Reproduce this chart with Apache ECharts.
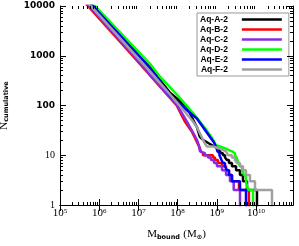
<!DOCTYPE html>
<html><head><meta charset="utf-8">
<script src="https://cdn.jsdelivr.net/npm/echarts@6/dist/echarts.min.js"></script>
<style>html,body{margin:0;padding:0;background:#fff}#c{width:299px;height:246px}</style>
</head><body><div id="c"></div>
<script>
// ---- data ----
const seriesNames = ['Aq-A-2','Aq-B-2','Aq-C-2','Aq-D-2','Aq-E-2','Aq-F-2'];
const seriesColors = ['#000000','#ff0000','#8a2be2','#00ff00','#0000ff','#a0a0a0'];
// smooth part: bound mass (Msun) and cumulative number
const massA = [5.6e5, 2.0e7, 6.5e7, 1.74e8, 2.5e8, 3.1e8, 3.7e8, 4.6e8, 1.0e9];
const countA = [12000, 570, 178, 93, 51, 37, 23.5, 20, 14];
const massB = [4.2e5, 7.1e6, 2.75e7, 9.5e7, 1.55e8, 2.3e8, 3.4e8];
const countB = [12000, 1000, 300, 100, 47, 30, 16];
const massC = [4.6e5, 7.6e6, 2.8e7, 9.8e7, 1.66e8, 2.4e8, 3.16e8, 3.55e8];
const countC = [12000, 1000, 300, 100, 50, 30, 20, 15];
const massD = [6.3e5, 2.0e7, 3.55e7, 1.0e8, 2.5e8, 5.5e8, 7.6e8];
const countD = [12000, 680, 380, 160, 70, 32, 22];
const massE = [5.6e5, 2.0e7, 6.5e7, 1.7e8, 3.1e8, 6.8e8, 8.5e8];
const countE = [12000, 560, 160, 81, 55, 23, 18];
const massF = [5.0e5, 2.0e7, 8.5e7, 2.3e8, 3.1e8, 5.0e8];
const countF = [12000, 480, 129, 51, 37, 17];
// step part: entry k = mass where the count steps down from k+1 to k
const topA = [1.06e10, 5.9e9, 4.66e9, 3.9e9, 3.1e9, 2.44e9, 2.05e9, 1.82e9, 1.62e9, 1.44e9, 1.28e9, 1.14e9];
const topB = [6.6e9, 3.68e9, 2.44e9, 2.05e9, 1.72e9, 1.36e9, 1.07e9, 9.0e8, 8.0e8, 4.45e8, 3.95e8];
const topC = [3.91e9, 2.7e9, 2.17e9, 1.72e9, 1.36e9, 1.01e9, 8.5e8, 7.1e8, 5.97e8, 5.0e8, 3.72e8];
const topD = [8.4e9, 6.25e9, 5.56e9, 4.94e9, 4.4e9, 3.91e9, 3.58e9, 3.37e9, 3.18e9, 2.91e9, 2.44e9, 1.93e9, 1.53e9, 1.21e9, 9.5e8];
const topE = [5.56e9, 3.91e9, 2.44e9, 2.05e9, 1.82e9, 1.62e9, 1.44e9, 1.32e9, 1.24e9, 1.17e9, 1.10e9, 1.04e9, 9.8e8];
const topF = [2.56e10, 9.42e9, 7.03e9, 5.56e9, 4.66e9, 3.91e9, 3.27e9, 2.91e9, 2.44e9, 1.93e9, 1.72e9, 1.36e9, 1.07e9, 8.0e8, 5.62e8];
// axis ranges / ticks (decades)
const xMin = 1e5, xMax = 8.8e10;
const yMin = 1, yMax = 10000;
const xDecades = [5, 6, 7, 8, 9, 10];
const yDecades = [0, 1, 2, 3, 4];

const smoothM = [massA, massB, massC, massD, massE, massF];
const smoothN = [countA, countB, countC, countD, countE, countF];
const tops = [topA, topB, topC, topD, topE, topF];

function build(m, n, top) {
  const pts = m.map((v, i) => [v, n[i]]);
  for (let k = top.length; k >= 1; k--) {
    pts.push([top[k - 1], k + 1]);
    pts.push([top[k - 1], k]);
  }
  pts.push([top[0], 0.5]);
  return pts;
}
const lxMin = Math.log10(xMin), lxMax = Math.log10(xMax);
const lyMin = Math.log10(yMin), lyMax = Math.log10(yMax);
function minors(lo, hi) {
  const out = [];
  for (let d = Math.floor(lo); d <= Math.ceil(hi); d++)
    for (let k = 2; k <= 9; k++) { const v = d + Math.log10(k); if (v > lo && v < hi) out.push(v); }
  return out;
}
const xMinor = minors(lxMin, lxMax);
const yMinor = minors(lyMin, lyMax);

const serif = 'Liberation Serif';
function decoX(pos, major, labels) {
  return {
    type: 'value', min: lxMin, max: lxMax, position: pos, z: 5,
    axisLine: { show: major, lineStyle: { color: '#000', width: 1 } },
    splitLine: { show: false },
    axisTick: { show: true, inside: true, length: major ? 6 : 3, lineStyle: { color: '#000', width: 1 },
      customValues: major ? xDecades : xMinor },
    axisLabel: labels ? {
      show: true, customValues: xDecades, margin: 3, align: 'center',
      formatter: v => '{b|10}{s|' + v + '}',
      rich: {
        b: { fontFamily: serif, fontSize: 11, lineHeight: 11, verticalAlign: 'bottom', color: '#000' },
        s: { fontFamily: serif, fontSize: 7, lineHeight: 7, verticalAlign: 'top', padding: [0, 0, 6, 0], color: '#000' }
      }
    } : { show: false }
  };
}
function decoY(pos, major, labels) {
  return {
    type: 'value', min: lyMin, max: lyMax, position: pos, z: 5,
    axisLine: { show: major, lineStyle: { color: '#000', width: 1 } },
    splitLine: { show: false },
    axisTick: { show: true, inside: true, length: major ? 6 : 3, lineStyle: { color: '#000', width: 1 },
      customValues: major ? yDecades : yMinor },
    axisLabel: labels ? {
      show: true, customValues: yDecades, margin: 5,
      formatter: v => { const n = Math.round(Math.pow(10, v)); return n >= 100 ? '{a|' + n + '}' : '{b|' + n + '}'; },
      rich: {
        a: { fontFamily: 'DejaVu Sans', fontWeight: 'bold', fontSize: 9, color: '#000' },
        b: { fontFamily: serif, fontSize: 10, color: '#000' }
      }
    } : { show: false }
  };
}

const xAxes = [
  { type: 'log', min: xMin, max: xMax, show: false },
  decoX('bottom', true, true), decoX('bottom', false, false),
  decoX('top', true, false), decoX('top', false, false)
];
xAxes[1].name = '{m|M}{sub|bound} {m|(M}{sub|\u2299}{m|)}';
xAxes[1].nameLocation = 'middle';
xAxes[1].nameGap = 24;
xAxes[1].nameTextStyle = { color: '#000', rich: {
  m: { fontFamily: serif, fontSize: 11, lineHeight: 11, verticalAlign: 'top', color: '#000' },
  sub: { fontFamily: 'DejaVu Sans', fontWeight: 'bold', fontSize: 6.5, lineHeight: 8, padding: [5, 0, 0, 0], verticalAlign: 'bottom', color: '#000' }
} };
const yAxes = [
  { type: 'log', min: yMin, max: yMax, show: false },
  decoY('left', true, true), decoY('left', false, false),
  decoY('right', true, false), decoY('right', false, false)
];
yAxes[1].name = '{n|N}{s|cumulative}';
yAxes[1].nameLocation = 'middle';
yAxes[1].nameRotate = 90;
yAxes[1].nameGap = 50;
yAxes[1].nameTextStyle = { color: '#000', rich: {
  n: { fontFamily: serif, fontSize: 11, lineHeight: 11, verticalAlign: 'top', color: '#000' },
  s: { fontFamily: 'DejaVu Sans', fontWeight: 'bold', fontSize: 6.5, lineHeight: 8, padding: [5, 0, 0, 0], verticalAlign: 'bottom', color: '#000' }
} };

const series = seriesNames.map((name, i) => ({
  name, type: 'line', xAxisIndex: 0, yAxisIndex: 0, symbol: 'none', clip: true,
  data: build(smoothM[i], smoothN[i], tops[i]),
  lineStyle: { color: seriesColors[i], width: 2.5 },
  itemStyle: { color: seriesColors[i] },
  z: 2, animation: false
}));

const chart = echarts.init(document.getElementById('c'), null, { renderer: 'canvas' });
chart.setOption({
  animation: false,
  backgroundColor: '#fff',
  grid: { left: 60, right: 6, top: 6, bottom: 41, containLabel: false, outerBoundsMode: 'none' },
  xAxis: xAxes,
  yAxis: yAxes,
  legend: {
    data: seriesNames, orient: 'vertical', left: 197, top: 13, align: 'right',
    icon: 'rect', itemWidth: 40, itemHeight: 2.5, itemGap: 1, padding: [2, 7, 2, 3],
    borderColor: '#999', borderWidth: 1, selectedMode: false,
    textStyle: { fontFamily: 'Liberation Sans', fontWeight: 'bold', fontSize: 8.5, lineHeight: 8, color: '#000', padding: [0, 9, 0, 0] }
  },
  series
});
</script>
</body></html>
